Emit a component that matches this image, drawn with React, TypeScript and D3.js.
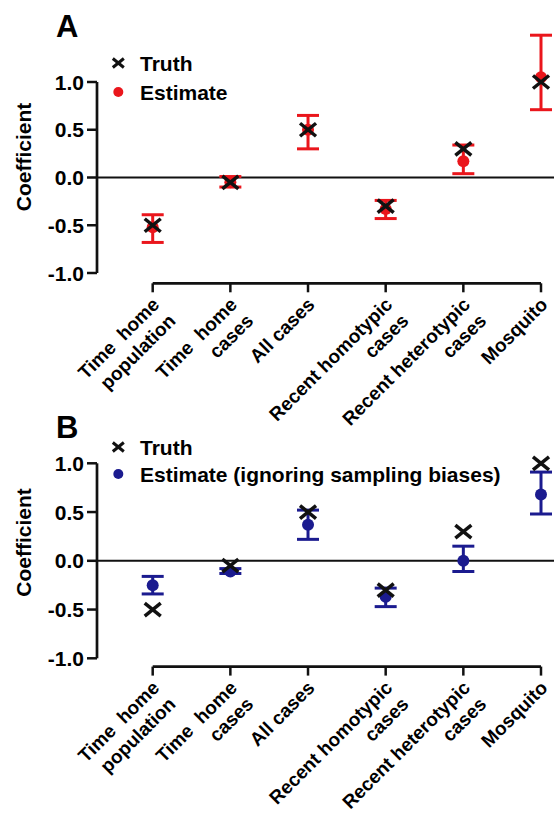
import React from "react";
import * as d3 from "d3";

const categories = [
  "Time  home\npopulation",
  "Time  home\ncases",
  "All cases",
  "Recent homotypic\ncases",
  "Recent heterotypic\ncases",
  "Mosquito",
];
const yTicks = [-1.0, -0.5, 0.0, 0.5, 1.0];

const truth = [-0.5, -0.05, 0.5, -0.3, 0.3, 1.0];

const estimateA = [-0.52, -0.05, 0.5, -0.33, 0.17, 1.05];
const lowerA = [-0.68, -0.1, 0.3, -0.43, 0.04, 0.71];
const upperA = [-0.39, 0.01, 0.65, -0.24, 0.34, 1.49];

const estimateB = [-0.25, -0.11, 0.37, -0.37, 0.0, 0.68];
const lowerB = [-0.34, -0.13, 0.22, -0.47, -0.11, 0.48];
const upperB = [-0.16, -0.08, 0.52, -0.28, 0.15, 0.91];

const panelLetters = ["A", "B"];
const legendTruth = "Truth";
const legendEstA = "Estimate";
const legendEstB = "Estimate (ignoring sampling biases)";
const yLabel = "Coefficient";

const RED = "#ea161c";
const BLUE = "#1b1b8f";
const FONT = "Liberation Sans, Arial, Helvetica, sans-serif";

const x = d3.scalePoint<string>().domain(categories).range([152.7, 541]);

function Cross({ cx, cy, hw, hh, sw }: { cx: number; cy: number; hw: number; hh: number; sw: number }) {
  return (
    <g stroke="#111" strokeWidth={sw} strokeLinecap="butt">
      <line x1={cx - hw} y1={cy - hh} x2={cx + hw} y2={cy + hh} />
      <line x1={cx - hw} y1={cy + hh} x2={cx + hw} y2={cy - hh} />
    </g>
  );
}

function Panel({
  top,
  bottom,
  axisY,
  letter,
  letterY,
  legendY,
  estLabel,
  color,
  est,
  lo,
  hi,
  yLabelCenter,
}: {
  top: number;
  bottom: number;
  axisY: number;
  letter: string;
  letterY: number;
  legendY: [number, number];
  estLabel: string;
  color: string;
  est: number[];
  lo: number[];
  hi: number[];
  yLabelCenter: number;
}) {
  const y = d3.scaleLinear().domain([-1, 1]).range([bottom, top]);
  const axisX = 97;
  const tickEnd = axisY + 9;
  return (
    <g fontFamily={FONT} fontWeight="bold">
      <text x={56} y={letterY} fontSize={31}>
        {letter}
      </text>
      {/* legend */}
      <Cross cx={118.3} cy={legendY[0] - 8} hw={5.5} hh={4.5} sw={3} />
      <text x={140} y={legendY[0]} fontSize={21}>
        {legendTruth}
      </text>
      <circle cx={118.3} cy={legendY[1] - 8} r={5} fill={color} />
      <text x={140} y={legendY[1]} fontSize={21}>
        {estLabel}
      </text>
      {/* y axis */}
      <line x1={axisX} x2={axisX} y1={y(1)} y2={y(-1)} stroke="#111" strokeWidth={2.7} />
      {yTicks.map((t) => (
        <g key={t}>
          <line x1={axisX - 10} x2={axisX} y1={y(t)} y2={y(t)} stroke="#111" strokeWidth={2.5} />
          <text x={axisX - 13} y={y(t)} dy="0.36em" textAnchor="end" fontSize={21}>
            {d3.format(".1f")(t).replace("−", "-")}
          </text>
        </g>
      ))}
      <text
        transform={`translate(31,${yLabelCenter}) rotate(-90)`}
        textAnchor="middle"
        fontSize={21}
      >
        {yLabel}
      </text>
      {/* zero line */}
      <line x1={axisX} x2={554} y1={y(0)} y2={y(0)} stroke="#111" strokeWidth={2} />
      {/* x axis */}
      <line
        x1={x(categories[0])!}
        x2={x(categories[categories.length - 1])!}
        y1={axisY}
        y2={axisY}
        stroke="#111"
        strokeWidth={2.7}
      />
      {categories.map((c) => (
        <line key={c} x1={x(c)!} x2={x(c)!} y1={axisY} y2={tickEnd} stroke="#111" strokeWidth={2.5} />
      ))}
      {categories.map((c) => (
        <g key={c} transform={`translate(${x(c)!},${tickEnd}) rotate(-45)`}>
          {c.split("\n").map((line, i) => (
            <text key={i} x={-4} y={15 + i * 23} textAnchor="end" fontSize={19} style={{ whiteSpace: "pre" }}>
              {line}
            </text>
          ))}
        </g>
      ))}
      {/* error bars + estimates */}
      {categories.map((c, i) => {
        const cx = x(c)!;
        return (
          <g key={c} stroke={color} strokeWidth={3}>
            <line x1={cx} x2={cx} y1={y(lo[i])} y2={y(hi[i])} />
            <line x1={cx - 11} x2={cx + 11} y1={y(lo[i])} y2={y(lo[i])} />
            <line x1={cx - 11} x2={cx + 11} y1={y(hi[i])} y2={y(hi[i])} />
            <circle cx={cx} cy={y(est[i])} r={6} fill={color} stroke="none" />
          </g>
        );
      })}
      {/* truth */}
      {categories.map((c, i) => (
        <Cross key={c} cx={x(c)!} cy={y(truth[i])} hw={8} hh={6.5} sw={3.5} />
      ))}
    </g>
  );
}

export default function App() {
  return (
    <svg
      width={554}
      height={815}
      viewBox="0 0 554 815"
      style={{ position: "absolute", left: 0, top: 0, background: "#fff" }}
    >
      <rect width={554} height={815} fill="#fff" />
      <Panel
        top={82}
        bottom={273}
        axisY={283.3}
        letter={panelLetters[0]}
        letterY={37}
        legendY={[71, 100]}
        estLabel={legendEstA}
        color={RED}
        est={estimateA}
        lo={lowerA}
        hi={upperA}
        yLabelCenter={157}
      />
      <Panel
        top={463.3}
        bottom={658.3}
        axisY={666.6}
        letter={panelLetters[1]}
        letterY={438}
        legendY={[455, 482]}
        estLabel={legendEstB}
        color={BLUE}
        est={estimateB}
        lo={lowerB}
        hi={upperB}
        yLabelCenter={542.5}
      />
    </svg>
  );
}
